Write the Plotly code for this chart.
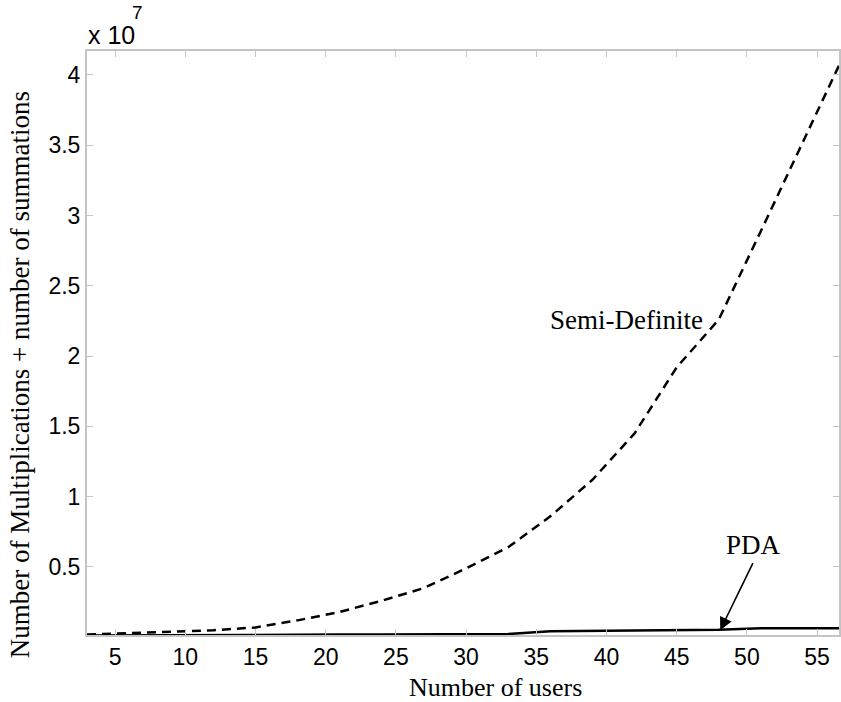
import plotly.graph_objects as go

users = [3, 6, 9, 12, 15, 18, 21, 24, 27, 30, 33, 36, 39, 42, 45, 48, 51, 54, 57]
semi_definite = [0.02e7, 0.03e7, 0.04e7, 0.05e7, 0.07e7, 0.12e7, 0.18e7, 0.26e7, 0.35e7,
                 0.49e7, 0.64e7, 0.86e7, 1.12e7, 1.45e7, 1.92e7, 2.26e7, 2.89e7, 3.52e7, 4.16e7]
pda = [0.012e7, 0.014e7, 0.015e7, 0.016e7, 0.017e7, 0.018e7, 0.019e7, 0.02e7, 0.021e7,
       0.022e7, 0.023e7, 0.043e7, 0.045e7, 0.046e7, 0.052e7, 0.053e7, 0.064e7, 0.064e7, 0.064e7]

x_ticks = [5, 10, 15, 20, 25, 30, 35, 40, 45, 50, 55]
y_ticks = [0.5e7, 1e7, 1.5e7, 2e7, 2.5e7, 3e7, 3.5e7, 4e7]
y_tick_text = ["0.5", "1", "1.5", "2", "2.5", "3", "3.5", "4"]

SERIF = "Liberation Serif, Times New Roman, serif"
SANS = "Liberation Sans, Arial, sans-serif"
GREY = "#c4c4c4"

fig = go.Figure()
fig.add_trace(go.Scatter(x=users, y=semi_definite, mode="lines",
                         line=dict(color="black", width=2.5, dash="9px,6px"),
                         name="Semi-Definite", showlegend=False))
fig.add_trace(go.Scatter(x=users, y=pda, mode="lines",
                         line=dict(color="black", width=2.5),
                         name="PDA", showlegend=False))

fig.update_layout(
    width=841, height=702, autosize=False,
    margin=dict(l=87, r=0, t=51, b=67),
    plot_bgcolor="white", paper_bgcolor="white",
    showlegend=False,
)
fig.update_xaxes(range=[3, 56.56], tickvals=x_ticks, ticktext=[str(v) for v in x_ticks],
                 ticks="inside", ticklen=6, tickcolor=GREY, tickwidth=1,
                 showline=True, linecolor=GREY, linewidth=2, mirror="ticks",
                 showgrid=False, zeroline=False,
                 tickfont=dict(family=SANS, size=23, color="black"))
fig.update_yaxes(range=[0.016e7, 4.17e7], tickvals=y_ticks, ticktext=y_tick_text,
                 ticks="inside", ticklen=6, tickcolor=GREY, tickwidth=1,
                 showline=True, linecolor=GREY, linewidth=2, mirror="ticks",
                 showgrid=False, zeroline=False,
                 tickfont=dict(family=SANS, size=23, color="black"))

# axis titles
fig.add_annotation(text="Number of users", xref="x", yref="paper", x=32.1, y=-0.090,
                   showarrow=False, font=dict(family=SERIF, size=26, color="black"),
                   xanchor="center", yanchor="middle")
fig.add_annotation(text="Number of Multiplications + number of summations", xref="paper", yref="paper",
                   x=-0.089, y=0.445, textangle=-90, showarrow=False,
                   font=dict(family=SERIF, size=27, color="black"),
                   xanchor="center", yanchor="middle")
# exponent
fig.add_annotation(text="x 10", xref="paper", yref="paper", x=0.0, y=1.027, xanchor="left", yanchor="middle",
                   showarrow=False, borderpad=0, font=dict(family=SANS, size=25, color="black"))
fig.add_annotation(text="7", xref="paper", yref="paper", x=0.0675, y=1.066, xanchor="center", yanchor="middle",
                   showarrow=False, borderpad=0, font=dict(family=SANS, size=19, color="black"))

# labels
fig.add_annotation(text="Semi-Definite", x=41.43, y=2.257e7, showarrow=False,
                   font=dict(family=SERIF, size=27, color="black"), xanchor="center", yanchor="middle")
fig.add_annotation(text="PDA", x=50.48, y=0.656e7, showarrow=False,
                   font=dict(family=SERIF, size=27, color="black"), xanchor="center", yanchor="middle")
fig.add_annotation(text="", x=48.1, y=0.05e7, ax=50.48, ay=0.538e7, axref="x", ayref="y",
                   showarrow=True, arrowhead=2, arrowsize=1.6, arrowwidth=1.6, arrowcolor="black")

fig.write_html("out.html")
